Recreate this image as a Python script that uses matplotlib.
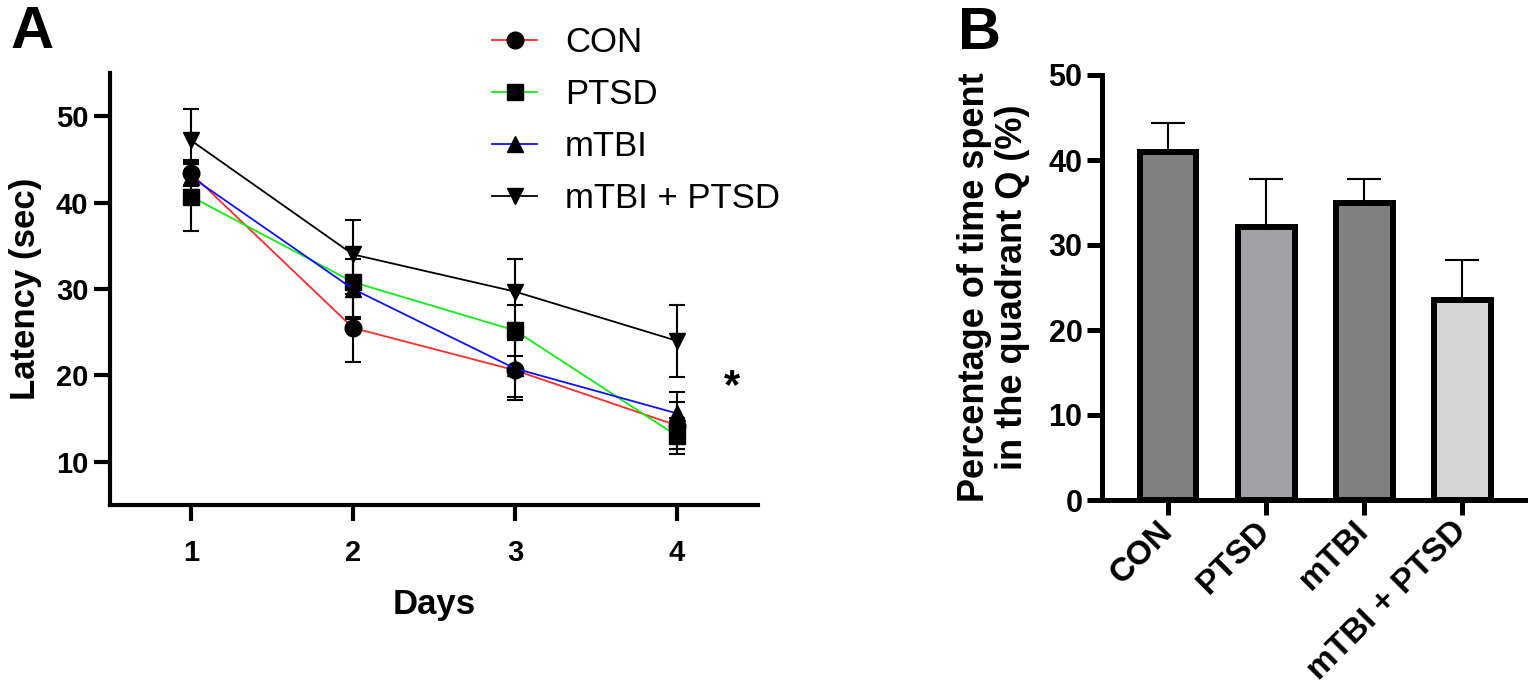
import numpy as np
import matplotlib
matplotlib.use('Agg')
import matplotlib.pyplot as plt

plt.rcParams['font.family'] = ['Liberation Sans', 'DejaVu Sans']

# panel A: latency per day (mean, SEM)
days = [1, 2, 3, 4]
groups = ['CON', 'PTSD', 'mTBI', 'mTBI + PTSD']
lat_mean = {
    'CON': [43.4, 25.5, 20.6, 14.2],
    'PTSD': [40.7, 30.8, 25.2, 13.0],
    'mTBI': [43.0, 30.0, 20.8, 15.6],
    'mTBI + PTSD': [47.2, 34.0, 29.7, 24.0],
}
lat_sem = {
    'CON': [1.5, 3.9, 3.5, 2.7],
    'PTSD': [4.0, 4.0, 3.0, 2.1],
    'mTBI': [1.5, 3.5, 3.3, 2.5],
    'mTBI + PTSD': [3.6, 4.0, 3.8, 4.2],
}
line_colors = ['#ff2a2a', '#11ee11', '#1010ff', '#000000']
markers = ['o', 's', '^', 'v']

# panel B: percentage of time in quadrant Q (mean, SEM)
bar_labels = ['CON', 'PTSD', 'mTBI', 'mTBI + PTSD']
bar_mean = [40.9, 32.1, 35.0, 23.5]
bar_sem = [3.5, 5.7, 2.8, 4.7]
bar_colors = ['#808080', '#a2a2a6', '#808080', '#d4d4d4']

W, H = 1535, 693
fig = plt.figure(figsize=(W/100, H/100), dpi=100)

# ---------------- panel A
axA = fig.add_axes([110/W, 1-505/H, (758-110)/W, (505-73)/H])
for i, g in enumerate(groups):
    axA.errorbar(days, lat_mean[g], yerr=lat_sem[g], fmt='none', ecolor='black',
                 elinewidth=1.5, capsize=5.5, capthick=1.5, zorder=2)
for i, g in enumerate(groups):
    axA.plot(days, lat_mean[g], color=line_colors[i], lw=1.3, zorder=3,
             marker=markers[i], markersize=12, markerfacecolor='black',
             markeredgecolor='black', label=g)

axA.set_xlim(0.5, 4.5)
axA.set_ylim(5, 55)
axA.set_xticks(days)
axA.set_yticks([10, 20, 30, 40, 50])
for s in ['top', 'right']:
    axA.spines[s].set_visible(False)
for s in ['left', 'bottom']:
    axA.spines[s].set_linewidth(3.0)
axA.tick_params(axis='both', width=3.0, length=11.5, labelsize=21)
axA.tick_params(axis='y', pad=4)
axA.tick_params(axis='x', pad=13)
for lab in axA.get_xticklabels() + axA.get_yticklabels():
    lab.set_fontweight('bold')
axA.set_xlabel('Days', fontsize=25, fontweight='bold', labelpad=15)
axA.set_ylabel('Latency (sec)', fontsize=25, fontweight='bold')
axA.yaxis.set_label_coords((42-110)/(758-110), 0.5)
axA.text(4.34, 18.7, '*', fontsize=30, fontweight='bold', ha='center', va='center')

leg = axA.legend(loc='upper left', bbox_to_anchor=(492/W, 1-26/H), bbox_transform=fig.transFigure,
                 frameon=False, fontsize=25, handlelength=1.3, handletextpad=0.8,
                 labelspacing=0.55, borderpad=0, borderaxespad=0)

fig.text(11/W, 1-48/H, 'A', fontsize=43, fontweight='bold', ha='left', va='baseline')

# ---------------- panel B
axB = fig.add_axes([1102/W, 1-500/H, (1525-1102)/W, (500-75)/H])
xb = np.arange(len(bar_labels))
axB.bar(xb, bar_mean, width=0.58, color=bar_colors, edgecolor='black', linewidth=4.3, zorder=3)
axB.errorbar(xb, bar_mean, yerr=[np.zeros(len(bar_sem)), bar_sem], fmt='none', ecolor='black',
             elinewidth=1.5, capsize=12, capthick=1.5, zorder=2)
axB.set_xlim(-0.673, 3.64)
axB.set_ylim(0, 50)
axB.set_yticks([0, 10, 20, 30, 40, 50])
axB.set_xticks(xb)
axB.set_xticklabels(bar_labels, rotation=45, ha='right', va='center', rotation_mode='anchor')
for s in ['top', 'right']:
    axB.spines[s].set_linewidth(0)
    axB.spines[s].set_visible(False)
for s in ['left', 'bottom']:
    axB.spines[s].set_linewidth(3.6)
axB.tick_params(axis='both', width=3.6, length=11)
axB.tick_params(axis='y', labelsize=22, pad=3)
axB.tick_params(axis='x', labelsize=24, pad=8)
for lab in axB.get_xticklabels() + axB.get_yticklabels():
    lab.set_fontweight('bold')
axB.set_ylabel('Percentage of time spent\nin the quadrant Q (%)', fontsize=26, fontweight='bold',
               linespacing=1.1)
axB.yaxis.set_label_coords((1030-1102)/(1525-1102), 0.5)

fig.text(958/W, 1-49/H, 'B', fontsize=43, fontweight='bold', ha='left', va='baseline')

fig.savefig('out.png', dpi=100)
